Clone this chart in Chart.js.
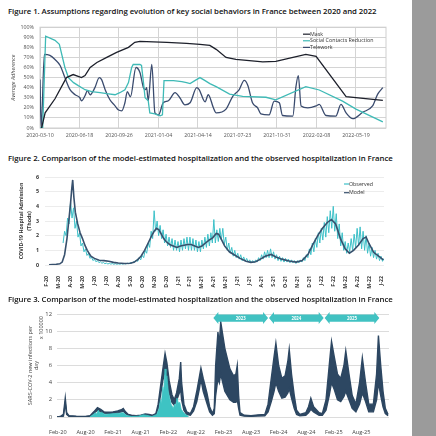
<!DOCTYPE html>
<html>
<head>
<meta charset="utf-8">
<script src="https://cdn.jsdelivr.net/npm/chart.js@4"></script>
<style>
html, body { margin: 0; padding: 0; background: #fff; width: 436px; height: 436px; overflow: hidden; position: relative; font-family: 'Open Sans', sans-serif; }
.side { position: absolute; left: 412px; top: 0; width: 24px; height: 436px; background: #9b9b9b; }
.ttl { position: absolute; left: 8px; font-size: 7.8px; line-height: 9px; font-weight: 600; color: #111; white-space: nowrap; letter-spacing: -0.05px; }
canvas { position: absolute; }
</style>
</head>
<body>
<div class="side"></div>
<div class="ttl" style="top:6.5px">Figure 1. Assumptions regarding evolution of key social behaviors in France between 2020 and 2022</div>
<canvas id="c1" width="404" height="125" style="left:8px;top:18px"></canvas>
<div class="ttl" style="top:154px">Figure 2. Comparison of the model-estimated hospitalization and the observed hospitalization in France</div>
<canvas id="c2" width="396" height="130" style="left:16px;top:165px"></canvas>
<div class="ttl" style="top:294.5px">Figure 3. Comparison of the model-estimated hospitalization and the observed hospitalization in France</div>
<canvas id="c3" width="390" height="131" style="left:22px;top:305px"></canvas>
<script>
Chart.defaults.font.family = "'Open Sans', sans-serif"
Chart.defaults.animation = false

// ---- figure 1 : days since 2020-03-10
const dates1 = ['2020-03-10', '2020-06-18', '2020-09-26', '2021-01-04', '2021-04-14', '2021-07-23', '2021-10-31', '2022-02-08', '2022-05-19']
const maskDay = [4, 13, 38, 67, 84, 105, 114, 127, 144, 169, 194, 224, 240, 253, 321, 371, 405, 430, 446, 471, 496, 564, 597, 673, 699, 775, 868]
const maskPct = [0, 15, 29, 50, 53, 50, 52, 60, 65, 70, 75, 80, 85, 86, 85, 84, 83, 82, 78, 70, 68, 65.5, 66, 73, 71, 31, 27.5]
const socialDay = [0, 6.8, 14.3, 38, 49, 63, 72, 85, 97, 114, 131, 152, 169, 190, 202, 215, 224, 232, 236, 253, 257, 262, 266, 274, 278, 291, 304, 310, 314, 338, 359, 371, 380, 392, 405, 418, 430, 446, 480, 513, 572, 597, 673, 707, 766, 800, 868]
const socialPct = [0, 0, 91, 87, 83, 60, 50, 45, 42, 38, 36, 35, 34, 33, 35, 38, 45, 60, 63, 63, 62, 45, 30, 27, 15, 14, 12, 13, 47, 47, 46, 45, 44, 47, 50, 47, 44, 41, 33.6, 31.4, 30.5, 28, 41, 37.7, 26.7, 18.7, 6]
const teleDay = [0, 3, 11, 25, 38, 51, 63, 76, 89, 101, 105, 114, 120, 127, 139, 150, 156, 165, 177, 190, 198, 207, 215, 221, 229, 243, 253, 262, 267, 270, 274, 283, 291, 300, 312, 325, 342, 354, 367, 380, 397, 403, 418, 426, 439, 446, 471, 488, 504, 517, 526, 538, 551, 559, 580, 593, 606, 614, 640, 648, 654, 661, 678, 699, 707, 724, 749, 762, 775, 792, 817, 842, 855, 868]
const telePct = [48, 0, 73, 72, 68, 62, 50, 38, 33, 30, 27, 32, 37, 33, 40, 50, 48, 38, 28, 22, 18, 17, 25, 36, 31, 60, 55, 40, 38, 40, 27, 63, 15, 13, 25, 27, 35, 30, 23, 25, 40, 38, 26, 33, 20, 15, 18.7, 31.4, 37.8, 47.3, 42.5, 25, 20, 14, 13, 26.7, 25, 12.4, 11.8, 41, 52, 21.9, 20, 21.9, 23.5, 12.4, 11.8, 23.5, 15, 9.2, 15.6, 21.9, 33.6, 40]

// ---- figure 2 : months since Feb 2020
const months2 = ['F-20', 'M-20', 'A-20', 'M-20', 'J-20', 'J-20', 'A-20', 'S-20', 'O-20', 'N-20', 'D-20', 'J-21', 'F-21', 'M-21', 'A-21', 'M-21', 'J-21', 'J-21', 'A-21', 'S-21', 'O-21', 'N-21', 'D-21', 'J-22', 'F-22', 'M-22', 'A-22', 'M-22', 'J-22']
const obsStart = 1.375, obsStep = 0.125
const observed = [
  1.5, 2.3, 2.0, 3.2, 2.8,
  4.3, 3.2, 3.9, 2.5, 3.0, 1.9, 2.2, 1.3,
  1.5, 0.9, 1.1, 0.65, 0.8, 0.45, 0.55, 0.3,
  0.4, 0.22, 0.3, 0.16, 0.22, 0.12, 0.17, 0.09,
  0.13, 0.07, 0.11, 0.06, 0.1, 0.05, 0.09, 0.05,
  0.08, 0.05, 0.09, 0.06, 0.1, 0.07, 0.12, 0.09,
  0.15, 0.12, 0.22, 0.18, 0.35, 0.25, 0.5, 0.35,
  0.65, 0.5, 1.0, 0.8, 1.5, 1.2, 2.3, 1.8,
  3.7, 2.3, 3.0, 2.0, 2.7, 1.8, 2.4, 1.5,
  2.1, 1.3, 1.9, 1.2, 1.8, 1.0, 1.7, 1.0,
  1.6, 0.9, 1.7, 1.0, 1.8, 1.1, 1.9, 1.0,
  1.9, 1.0, 1.8, 1.0, 1.7, 0.9, 1.6, 0.9,
  1.7, 1.1, 1.9, 1.2, 2.1, 1.3, 2.2, 1.5,
  3.1, 1.5, 2.4, 1.6, 2.5, 1.7, 2.5, 1.4,
  1.9, 1.0, 1.5, 0.8, 1.2, 0.6, 1.0, 0.5,
  0.8, 0.4, 0.7, 0.3, 0.55, 0.25, 0.45, 0.2,
  0.35, 0.15, 0.3, 0.15, 0.35, 0.2, 0.5, 0.3,
  0.7, 0.4, 0.9, 0.5, 1.0, 0.5, 1.1, 0.5,
  0.9, 0.4, 0.7, 0.3, 0.6, 0.25, 0.5, 0.2,
  0.45, 0.2, 0.4, 0.15, 0.35, 0.15, 0.3, 0.1,
  0.3, 0.15, 0.35, 0.2, 0.5, 0.3, 0.7, 0.5,
  1.1, 0.7, 1.5, 0.9, 1.8, 1.2, 2.2, 1.5,
  2.5, 1.7, 2.9, 1.9, 3.3, 2.2, 3.7, 2.5,
  4.0, 2.3, 3.5, 1.8, 2.8, 1.3, 2.2, 1.0,
  1.6, 0.8, 1.5, 0.9, 1.8, 1.0, 2.1, 1.2,
  2.5, 1.3, 2.6, 1.1, 2.3, 1.0, 2.0, 0.8,
  1.5, 0.6, 1.2, 0.5, 1.0, 0.4, 0.8, 0.3,
  0.6, 0.25, 0.45
]
const modelMonth2 = [0.2, 0.8, 1.1, 1.3, 1.5, 1.7, 1.85, 2.0, 2.1, 2.18, 2.28, 2.4, 2.6, 2.8, 3.0, 3.2, 3.4, 3.7, 4.0, 4.4, 4.8, 5.2, 5.6, 6.0, 6.5, 7.0, 7.3, 7.6, 7.9, 8.2, 8.5, 8.8, 9.0, 9.2, 9.4, 9.6, 9.8, 10.0, 10.3, 10.6, 10.9, 11.2, 11.5, 11.8, 12.1, 12.4, 12.7, 13.0, 13.3, 13.6, 13.9, 14.2, 14.4, 14.6, 14.9, 15.3, 15.7, 16.2, 16.7, 17.1, 17.5, 17.9, 18.3, 18.8, 19.2, 19.7, 20.3, 20.9, 21.4, 21.9, 22.3, 22.7, 23.1, 23.5, 23.85, 24.2, 24.6, 25.0, 25.35, 25.7, 26.1, 26.5, 26.75, 27.0, 27.4, 27.8, 28.2]
const model2 = [0.02, 0.05, 0.08, 0.2, 0.7, 1.8, 3.0, 4.2, 5.2, 5.8, 4.6, 3.6, 2.8, 2.2, 1.8, 1.35, 1.0, 0.6, 0.45, 0.32, 0.3, 0.25, 0.18, 0.14, 0.1, 0.12, 0.18, 0.35, 0.6, 1.0, 1.5, 2.0, 2.3, 2.5, 2.4, 2.1, 1.8, 1.6, 1.4, 1.3, 1.2, 1.3, 1.35, 1.4, 1.4, 1.3, 1.2, 1.3, 1.5, 1.7, 1.85, 2.15, 2.1, 1.8, 1.3, 0.9, 0.7, 0.45, 0.25, 0.18, 0.22, 0.4, 0.6, 0.72, 0.55, 0.4, 0.27, 0.2, 0.3, 0.75, 1.4, 2.0, 2.5, 2.9, 3.1, 2.8, 1.8, 1.1, 0.8, 1.0, 1.35, 1.8, 1.9, 1.45, 0.85, 0.6, 0.35]

// ---- figure 3 : months since Feb 2020, values x 100000
const ticks3 = ['Feb-20', 'Aug-20', 'Feb-21', 'Aug-21', 'Feb-22', 'Aug-22', 'Feb-23', 'Aug-23', 'Feb-24', 'Aug-24', 'Feb-25', 'Aug-25']
const bandMonth = [-0.2, 0.5, 1.2, 1.6, 1.9, 2.4, 4.0, 6.0, 7.0, 7.8, 8.6, 9.3, 10.0, 11.0, 12.0, 13.0, 13.8, 14.2, 14.7, 15.3, 16.0, 17.0, 18.0, 19.0, 19.8, 20.5, 21.3, 21.8, 22.3, 22.8, 23.3, 23.7, 24.2, 24.8, 25.3, 25.8, 26.4, 26.7, 26.9, 27.4, 28.0, 28.8, 29.5, 30.2, 30.8, 31.1, 31.6, 32.4, 33.0, 33.6, 34.0, 34.3, 34.8, 35.1, 35.4, 36.3, 37.4, 38.2, 38.7, 39.0, 39.3, 39.6, 40.5, 42.0, 43.5, 45.0, 45.7, 46.4, 47.0, 47.4, 48.0, 48.7, 49.4, 50.0, 50.3, 50.8, 51.4, 51.9, 52.6, 53.9, 54.5, 55.0, 55.6, 56.8, 57.5, 58.3, 59.0, 59.5, 60.1, 60.8, 61.5, 62.2, 62.6, 63.3, 64.0, 64.8, 65.6, 66.2, 66.9, 67.6, 68.6, 69.3, 69.7, 70.2, 70.7, 71.2, 71.8]
const bandHigh = [0.02, 0.05, 0.3, 2.2, 0.5, 0.15, 0.08, 0.06, 0.15, 0.6, 1.1, 0.9, 0.6, 0.55, 0.6, 0.7, 0.85, 1.0, 0.6, 0.3, 0.2, 0.15, 0.2, 0.35, 0.3, 0.2, 0.4, 1.5, 3.5, 5.5, 7.4, 6.3, 4.2, 2.6, 2.0, 2.8, 4.5, 6.4, 4.0, 1.5, 0.6, 0.4, 1.2, 3.0, 4.8, 5.7, 4.5, 2.8, 1.2, 0.4, 1.0, 6.0, 9.9, 8.5, 11.1, 8.0, 5.6, 4.8, 5.0, 6.0, 2.5, 0.5, 0.2, 0.15, 0.25, 0.3, 1.5, 4.5, 7.0, 8.6, 6.0, 4.5, 4.8, 6.5, 7.9, 5.0, 2.5, 0.8, 0.3, 0.5, 1.2, 2.2, 1.2, 0.5, 0.4, 2.0, 6.0, 8.8, 7.0, 5.0, 4.5, 6.0, 7.7, 5.0, 2.5, 1.5, 4.0, 6.9, 4.0, 1.5, 1.5, 5.0, 9.5, 6.0, 3.0, 1.0, 0.3]
const bandLow = [0, 0.02, 0.1, 1.6, 0.3, 0.08, 0.04, 0.03, 0.08, 0.4, 0.8, 0.6, 0.45, 0.4, 0.45, 0.5, 0.6, 0.7, 0.4, 0.2, 0.12, 0.1, 0.12, 0.22, 0.2, 0.12, 0.25, 1.0, 2.5, 4.2, 5.4, 4.5, 2.8, 1.7, 1.4, 1.9, 2.8, 3.2, 2.0, 0.8, 0.3, 0.2, 0.7, 1.8, 3.4, 4.4, 3.0, 1.6, 0.6, 0.2, 0.4, 2.5, 4.5, 4.0, 5.0, 3.0, 2.0, 1.7, 1.7, 2.0, 1.0, 0.2, 0.1, 0.08, 0.12, 0.15, 0.6, 1.8, 3.0, 4.0, 3.0, 2.2, 2.3, 2.8, 3.3, 2.2, 1.0, 0.3, 0.15, 0.2, 0.5, 0.9, 0.6, 0.2, 0.2, 0.8, 2.5, 4.0, 3.2, 2.0, 1.8, 2.4, 3.0, 2.0, 1.0, 0.6, 1.5, 2.8, 1.8, 0.6, 0.6, 2.0, 4.0, 2.5, 1.2, 0.4, 0.15]
const obsMonth3 = [6.9, 7.7, 8.1, 8.4, 8.8, 9.1, 9.5, 10.2, 11.3, 12.4, 13.5, 14.2, 14.9, 16.0, 17.5, 18.5, 19.3, 20.4, 21.5, 22.0, 22.3, 22.5, 22.8, 23.0, 23.3, 23.5, 23.7, 24.0, 24.3, 24.6, 25.1, 25.4, 25.6, 25.9, 26.2, 26.5, 26.8, 27.2, 27.7, 28.1, 28.4]
const obs3 = [0, 0.3, 0.5, 0.35, 0.8, 0.45, 0.55, 0.3, 0.35, 0.4, 0.45, 0.5, 0.2, 0.05, 0.1, 0.25, 0.2, 0.05, 0.3, 1.0, 2.0, 1.5, 3.5, 2.8, 5.6, 4.0, 4.8, 3.0, 2.2, 1.5, 1.0, 1.5, 1.2, 2.2, 1.6, 1.7, 0.9, 0.6, 0.3, 0.2, 0]
const years3 = ['2023', '2024', '2025']
const yearFrom = [33.8, 45.9, 58.0]
const yearTo = [45.7, 57.8, 69.9]

const pts = (xs, ys) => xs.map((x, i) => ({x: x, y: ys[i]}))

// small legend drawn at the top right of the plot
const miniLegend = {
  id: 'miniLegend',
  afterDraw(chart, args, o) {
    const {ctx, chartArea} = chart
    ctx.save()
    ctx.font = o.size + "px 'Open Sans', sans-serif"
    ctx.textBaseline = 'middle'
    chart.data.datasets.forEach((ds, i) => {
      const x = chartArea.right + o.x
      const y = chartArea.top + o.y + i * o.gap
      ctx.strokeStyle = ds.borderColor
      ctx.lineWidth = 1.2
      ctx.beginPath(); ctx.moveTo(x, y); ctx.lineTo(x + o.line, y); ctx.stroke()
      ctx.fillStyle = '#333'
      ctx.fillText(ds.label, x + o.line, y)
    })
    ctx.restore()
  }
}

const frame = {
  id: 'frame',
  beforeDatasetsDraw(chart) {
    const {ctx, chartArea: a} = chart
    ctx.save()
    ctx.strokeStyle = '#cfcfcf'
    ctx.lineWidth = 1
    ctx.strokeRect(a.left, a.top, a.right - a.left, a.bottom - a.top)
    ctx.restore()
  }
}

new Chart(document.getElementById('c1'), {
  type: 'line',
  data: {
    datasets: [
      {label: 'Mask', data: pts(maskDay, maskPct), borderColor: '#1d202b', borderWidth: 1.3, pointRadius: 0, tension: 0},
      {label: 'Social Contacts Reduction', data: pts(socialDay, socialPct), borderColor: '#3fbab6', borderWidth: 1.3, pointRadius: 0, tension: 0},
      {label: 'Telework', data: pts(teleDay, telePct), borderColor: '#3a4b6e', borderWidth: 1.3, pointRadius: 0, tension: 0.3, cubicInterpolationMode: 'monotone'}
    ]
  },
  options: {
    responsive: false,
    layout: {padding: {top: 5, right: 26, left: 0, bottom: 0}},
    plugins: {legend: {display: false}, tooltip: {enabled: false},
      miniLegend: {x: -83, y: 7, gap: 6.6, line: 7, size: 5.3}},
    scales: {
      x: {
        type: 'linear', min: 0, max: 876,
        afterFit: s => { s.height = 15 },
        grid: {color: '#d4d4d4', drawTicks: false},
        border: {display: false},
        ticks: {stepSize: 100, includeBounds: false, maxRotation: 0, autoSkip: false, padding: 4,
          font: {size: 5.3}, color: '#555', callback: v => dates1[v / 100]}
      },
      y: {
        min: 0, max: 100,
        afterFit: s => { s.width = 32 },
        grid: {color: '#d4d4d4', drawTicks: false},
        border: {display: false},
        ticks: {stepSize: 10, padding: 6, font: {size: 5.3}, color: '#555', callback: v => v + '%'},
        title: {display: true, text: 'Average Adherence', font: {size: 5.5, style: 'italic'}, color: '#444', padding: {top: 2.5}}
      }
    }
  },
  plugins: [frame, miniLegend]
})

new Chart(document.getElementById('c2'), {
  type: 'line',
  data: {
    datasets: [
      {label: 'Observed', data: observed.map((v, i) => ({x: obsStart + i * obsStep, y: v})), borderColor: '#3cc0c8', borderWidth: 1, pointRadius: 0, order: 2},
      {label: 'Model', data: pts(modelMonth2, model2), borderColor: '#37506d', borderWidth: 1.6, pointRadius: 0, order: 1}
    ]
  },
  options: {
    responsive: false,
    layout: {padding: {top: 12, right: 28, left: 0, bottom: 0}},
    plugins: {legend: {display: false}, tooltip: {enabled: false},
      miniLegend: {x: -40, y: 7, gap: 8.7, line: 5, size: 5.3}},
    scales: {
      x: {
        type: 'linear', min: -0.14, max: 28.25,
        afterFit: s => { s.height = 30 },
        grid: {display: false},
        border: {display: false},
        ticks: {stepSize: 1, includeBounds: false, minRotation: 90, maxRotation: 90, autoSkip: false, padding: 3,
          font: {size: 5.3, weight: 'bold'}, color: '#333', callback: v => months2[v]}
      },
      y: {
        min: 0, max: 6,
        afterFit: s => { s.width = 29 },
        grid: {color: '#ececec', drawTicks: false},
        border: {display: false},
        ticks: {stepSize: 1, padding: 6, font: {size: 5.3, weight: 'bold'}, color: '#333'},
        title: {display: true, text: ['COVID-19 Hospital Admission', '(Thods)'], font: {size: 5.3, weight: 'bold', lineHeight: 1.45}, color: '#333', padding: {top: 1.5}}
      }
    }
  },
  plugins: [miniLegend]
})

// year banners and the unit note over figure 3
const banners = {
  id: 'banners',
  afterDraw(chart) {
    const {ctx, scales: {x, y}, chartArea} = chart
    ctx.save()
    const yc = y.getPixelForValue(11.53)
    years3.forEach((t, i) => {
      const x0 = x.getPixelForValue(yearFrom[i]), x1 = x.getPixelForValue(yearTo[i])
      ctx.fillStyle = '#41c2c2'
      ctx.beginPath()
      ctx.moveTo(x0, yc)
      ctx.lineTo(x0 + 5, yc - 6); ctx.lineTo(x0 + 5, yc - 3.6)
      ctx.lineTo(x1 - 5, yc - 3.6); ctx.lineTo(x1 - 5, yc - 6)
      ctx.lineTo(x1, yc)
      ctx.lineTo(x1 - 5, yc + 6); ctx.lineTo(x1 - 5, yc + 3.6)
      ctx.lineTo(x0 + 5, yc + 3.6); ctx.lineTo(x0 + 5, yc + 6)
      ctx.closePath(); ctx.fill()
      ctx.fillStyle = '#fff'
      ctx.font = "bold 4.3px 'Open Sans', sans-serif"
      ctx.textAlign = 'center'; ctx.textBaseline = 'middle'
      ctx.fillText(t, (x0 + x1) / 2, yc + 0.3)
    })
    ctx.translate(chartArea.left - 16, chartArea.top + 2)
    ctx.rotate(-Math.PI / 2)
    ctx.fillStyle = '#444'
    ctx.font = "5.5px 'Open Sans', sans-serif"
    ctx.textAlign = 'right'; ctx.textBaseline = 'middle'
    ctx.fillText('x 100000', 0, 0)
    ctx.restore()
  }
}

new Chart(document.getElementById('c3'), {
  type: 'line',
  data: {
    datasets: [
      {label: 'Observed', data: pts(obsMonth3, obs3), borderColor: '#3ec3c3', backgroundColor: '#3ec3c3', borderWidth: 0.8, pointRadius: 0, fill: 'origin', order: 0},
      {label: 'Model high', data: pts(bandMonth, bandHigh), borderColor: '#2d4762', borderWidth: 1.4, pointRadius: 0, fill: false, order: 1},
      {label: 'Model low', data: pts(bandMonth, bandLow), borderColor: '#2d4762', backgroundColor: '#2d4762', borderWidth: 1.4, pointRadius: 0, fill: '-1', order: 2}
    ]
  },
  options: {
    responsive: false,
    layout: {padding: {top: 9, right: 23, left: 0, bottom: 0}},
    plugins: {legend: {display: false}, tooltip: {enabled: false}},
    scales: {
      x: {
        type: 'linear', min: -0.2, max: 72,
        afterFit: s => { s.height = 19 },
        grid: {display: false},
        border: {display: false},
        ticks: {stepSize: 6, includeBounds: false, maxRotation: 0, autoSkip: false, padding: 4,
          font: {size: 5.6}, color: '#444', callback: v => ticks3[v / 6]}
      },
      y: {
        min: 0, max: 12,
        afterFit: s => { s.width = 35 },
        grid: {color: '#dcdcdc', drawTicks: false},
        border: {display: false},
        ticks: {stepSize: 2, padding: 5, font: {size: 5.8}, color: '#444'},
        title: {display: true, text: ['SARS-COV-2 new infections per', 'day'], font: {size: 5.5, lineHeight: 1.2}, color: '#444', padding: {top: 4.7}}
      }
    }
  },
  plugins: [banners]
})
</script>
</body>
</html>
